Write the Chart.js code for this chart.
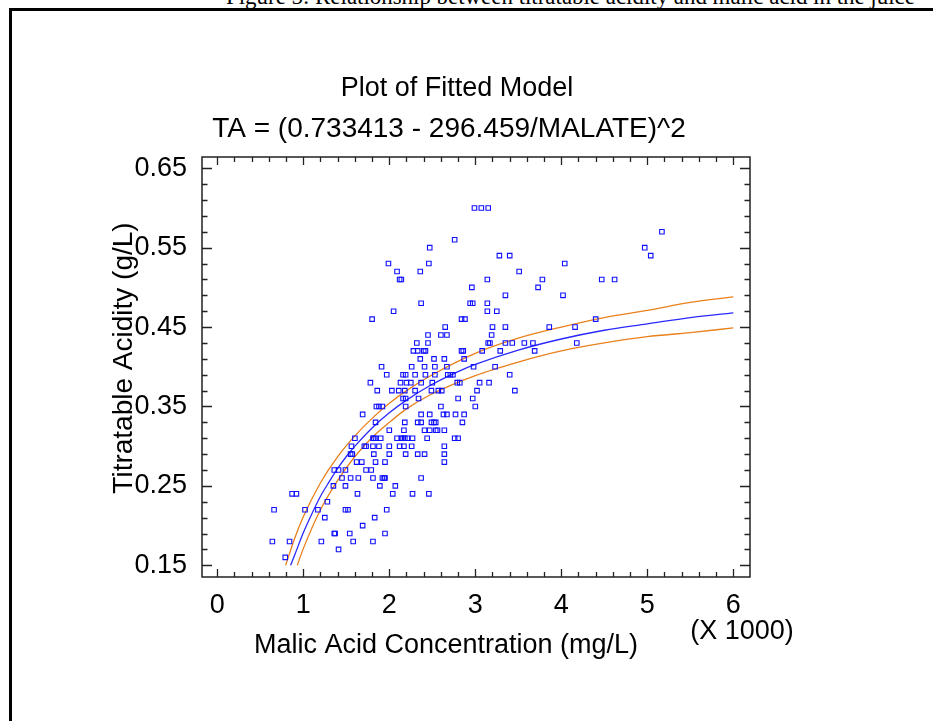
<!DOCTYPE html>
<html>
<head>
<meta charset="utf-8">
<script src="https://cdn.jsdelivr.net/npm/chart.js@4.4.0/dist/chart.umd.min.js"></script>
<style>
  html, body { margin: 0; padding: 0; background: #fff; width: 933px; height: 721px; overflow: hidden; }
  #caption { position: absolute; left: 226px; white-space: nowrap; font-family: "Liberation Serif", "Times New Roman", serif; line-height: 1; color: #000; }
  #frame { position: absolute; left: 9px; top: 8px; width: 950px; height: 740px; border-left: 3px solid #000; border-top: 3px solid #000; }
  #wrap { position: absolute; left: 0; top: 0; width: 933px; height: 721px; }
</style>
</head>
<body>
<div id="caption">Figure 5: Relationship between titratable acidity and malic acid in the juice</div>
<div id="frame"></div>
<div id="wrap"><canvas id="chart" width="933" height="721"></canvas></div>
<script>
// Axis ticks (malic acid in thousands of mg/L)
const xTickLabels = [0, 1, 2, 3, 4, 5, 6];
const yTickLabels = [0.15, 0.25, 0.35, 0.45, 0.55, 0.65];

// Observations, grouped by titratable acidity level
const acidRows = [0.60, 0.57, 0.56, 0.55, 0.54, 0.53, 0.52, 0.51, 0.50, 0.49, 0.48, 0.47, 0.46, 0.45, 0.44, 0.43,
  0.42, 0.41, 0.40, 0.39, 0.38, 0.37, 0.36, 0.35, 0.34, 0.33, 0.32, 0.31, 0.30, 0.29, 0.28, 0.27, 0.26, 0.25,
  0.24, 0.23, 0.22, 0.21, 0.20, 0.19, 0.18, 0.17, 0.16];
const malicByRow = [
  [2.99, 3.07, 3.15],
  [5.17],
  [2.76],
  [2.47, 4.97],
  [3.28, 3.40, 5.04],
  [1.99, 2.46, 4.04],
  [2.09, 2.36, 3.51],
  [2.12, 2.14, 3.14, 3.78, 4.47, 4.62],
  [2.96, 3.73],
  [3.35, 4.02],
  [2.37, 2.94, 2.97, 3.14],
  [2.05, 3.14, 3.25],
  [1.80, 2.84, 2.88, 4.40],
  [2.65, 3.20, 3.35, 3.86, 4.16],
  [2.45, 2.60, 2.67, 3.19],
  [2.32, 2.45, 3.15, 3.17, 3.35, 3.43, 3.57, 3.67, 4.18],
  [2.28, 2.33, 2.40, 2.42, 2.84, 2.86, 3.08, 3.29, 3.69],
  [2.36, 2.52, 2.64, 2.87],
  [1.91, 2.26, 2.41, 2.53, 2.67, 2.98, 3.23],
  [1.97, 2.16, 2.19, 2.30, 2.42, 2.53, 2.68, 2.71, 2.74, 3.40],
  [1.78, 2.13, 2.20, 2.25, 2.37, 2.50, 2.79, 2.82, 3.05, 3.16],
  [1.86, 2.03, 2.11, 2.18, 2.30, 2.49, 2.57, 2.61, 3.02, 3.46],
  [2.16, 2.19, 2.34, 2.80, 2.97],
  [1.85, 1.88, 1.92, 2.19, 2.60, 3.00],
  [1.69, 2.37, 2.47, 2.63, 2.67, 2.77, 2.87],
  [1.84, 2.18, 2.33, 2.37, 2.49, 2.52, 2.54, 2.85],
  [2.00, 2.17, 2.41, 2.47, 2.54, 2.56, 2.64],
  [1.60, 1.81, 1.82, 1.84, 1.90, 2.09, 2.14, 2.16, 2.18, 2.21, 2.27, 2.44, 2.76, 2.80],
  [1.56, 1.71, 1.73, 1.81, 1.88, 2.00, 2.12, 2.17, 2.26, 2.64],
  [1.55, 1.57, 1.82, 2.00, 2.19, 2.33, 2.41, 2.64],
  [1.62, 1.68, 1.84, 1.95, 2.64],
  [1.36, 1.41, 1.49, 1.73, 1.79],
  [1.45, 1.55, 1.64, 1.81, 1.92, 1.94, 1.95, 2.37],
  [1.35, 1.49, 1.89, 2.07],
  [0.87, 0.92, 1.63, 2.04, 2.27, 2.46],
  [1.28],
  [0.66, 1.02, 1.17, 1.49, 1.52, 1.97],
  [1.25, 1.83],
  [1.69],
  [1.36, 1.37, 1.54, 1.95],
  [0.64, 0.84, 1.21, 1.58, 1.81],
  [1.41],
  [0.79]
];

// Fitted model line and its confidence limits
const fitX = [0.853, 0.9, 1.0, 1.1, 1.2, 1.3, 1.4, 1.5, 1.6, 1.8, 2.0, 2.2, 2.5, 2.8, 3.0, 3.5, 4.0, 4.5, 5.0, 5.5, 6.0];
const fitY = [0.150, 0.163, 0.191, 0.215, 0.237, 0.255, 0.272, 0.287, 0.300, 0.323, 0.342, 0.358, 0.378, 0.394, 0.403, 0.421, 0.435, 0.446, 0.454, 0.462, 0.468];
const upperX = [0.795, 0.9, 1.0, 1.2, 1.4, 1.6, 1.8, 2.0, 2.2, 2.5, 3.0, 3.5, 4.0, 4.5, 5.0, 5.5, 6.0];
const upperY = [0.150, 0.184, 0.211, 0.254, 0.287, 0.313, 0.335, 0.354, 0.370, 0.390, 0.417, 0.436, 0.450, 0.462, 0.471, 0.481, 0.488];
const lowerX = [0.93, 1.0, 1.2, 1.4, 1.6, 1.8, 2.0, 2.2, 2.5, 3.0, 3.5, 4.0, 4.5, 5.0, 5.5, 6.0];
const lowerY = [0.150, 0.171, 0.220, 0.257, 0.287, 0.311, 0.330, 0.347, 0.366, 0.389, 0.406, 0.420, 0.430, 0.438, 0.443, 0.449];

const FONT = '"Liberation Sans", Arial, sans-serif';

// caption at the top of the page, mostly cut off by the window edge
const cap = document.getElementById("caption");
const mctx = document.createElement("canvas").getContext("2d");
mctx.font = '100px "Liberation Serif", "Times New Roman", serif';
const capSize = (689 / mctx.measureText(cap.textContent).width) * 100;
cap.style.fontSize = capSize + "px";
cap.style.top = (6 - 0.891 * capSize) + "px";

const points = [];
acidRows.forEach((ta, i) => {
  malicByRow[i].forEach((m) => points.push({ x: m, y: ta }));
});
const toXY = (xs, ys) => xs.map((x, i) => ({ x: x, y: ys[i] }));

// frame, inward ticks and the free text
const framePlugin = {
  id: "frame",
  afterDraw(chart) {
    const ctx = chart.ctx;
    const a = chart.chartArea;
    const xs = chart.scales.x;
    const ys = chart.scales.y;
    ctx.save();
    ctx.strokeStyle = "#222";
    ctx.lineWidth = 1.5;
    ctx.strokeRect(a.left, a.top, a.right - a.left, a.bottom - a.top);

    ctx.lineWidth = 1.3;
    ctx.beginPath();
    for (let k = 0; k <= 30; k++) {
      const v = k * 0.2;
      const px = Math.round(xs.getPixelForValue(v)) + 0.5;
      const len = k % 5 === 0 ? 8 : 5;
      ctx.moveTo(px, a.top); ctx.lineTo(px, a.top + len);
      ctx.moveTo(px, a.bottom); ctx.lineTo(px, a.bottom - len);
    }
    for (let k = 0; k <= 25; k++) {
      const v = 0.15 + k * 0.02;
      const py = Math.round(ys.getPixelForValue(v)) + 0.5;
      const len = k % 5 === 0 ? 10 : 5.5;
      ctx.moveTo(a.left, py); ctx.lineTo(a.left + len, py);
      ctx.moveTo(a.right, py); ctx.lineTo(a.right - len, py);
    }
    ctx.stroke();

    ctx.fillStyle = "#000";
    ctx.font = "27px " + FONT;
    ctx.textAlign = "center";
    ctx.textBaseline = "middle";
    ctx.fillText("Plot of Fitted Model", 457, 89);
    ctx.font = "28px " + FONT;
    ctx.fillText("TA = (0.733413 - 296.459/MALATE)^2", 449, 129);
    ctx.font = "27px " + FONT;
    ctx.fillText("Malic Acid Concentration (mg/L)", 446, 646);
    ctx.fillText("(X 1000)", 742, 632);
    ctx.font = "28px " + FONT;
    ctx.translate(124, 358);
    ctx.rotate(-Math.PI / 2);
    ctx.fillText("Titratable Acidity (g/L)", 0, 0);
    ctx.restore();
  }
};

new Chart(document.getElementById("chart"), {
  type: "scatter",
  data: {
    datasets: [
      {
        label: "Observed",
        data: points,
        pointStyle: "rect",
        pointRadius: 3.2,
        borderWidth: 1.1,
        borderColor: "#1010ff",
        backgroundColor: "rgba(255,255,255,0)",
        order: 0
      },
      {
        label: "Fit",
        data: toXY(fitX, fitY),
        showLine: true,
        pointRadius: 0,
        borderWidth: 1.3,
        borderColor: "#2a2aff",
        cubicInterpolationMode: "monotone",
        order: 1
      },
      {
        label: "Upper",
        data: toXY(upperX, upperY),
        showLine: true,
        pointRadius: 0,
        borderWidth: 1.3,
        borderColor: "#e8801c",
        cubicInterpolationMode: "monotone",
        order: 2
      },
      {
        label: "Lower",
        data: toXY(lowerX, lowerY),
        showLine: true,
        pointRadius: 0,
        borderWidth: 1.3,
        borderColor: "#e8801c",
        cubicInterpolationMode: "monotone",
        order: 2
      }
    ]
  },
  options: {
    responsive: false,
    animation: false,
    layout: { padding: { left: 102, right: 183, top: 157, bottom: 84 } },
    plugins: { legend: { display: false }, tooltip: { enabled: false } },
    scales: {
      x: {
        type: "linear",
        min: -0.1779,
        max: 6.1942,
        afterBuildTicks: (axis) => { axis.ticks = xTickLabels.map((v) => ({ value: v })); },
        afterFit: (scale) => { scale.height = 60; },
        grid: { display: false, drawTicks: false },
        border: { display: false },
        ticks: {
          autoSkip: false,
          maxRotation: 0,
          padding: 12,
          color: "#000",
          font: { family: FONT, size: 27 },
          callback: (v) => String(v)
        }
      },
      y: {
        type: "linear",
        min: 0.13526,
        max: 0.6642,
        afterBuildTicks: (axis) => { axis.ticks = yTickLabels.map((v) => ({ value: v })); },
        afterFit: (scale) => { scale.width = 100; },
        grid: { display: false, drawTicks: false },
        border: { display: false },
        ticks: {
          autoSkip: false,
          padding: 15,
          color: "#000",
          font: { family: FONT, size: 27 },
          callback: (v) => v.toFixed(2)
        }
      }
    }
  },
  plugins: [framePlugin]
});
</script>
</body>
</html>
